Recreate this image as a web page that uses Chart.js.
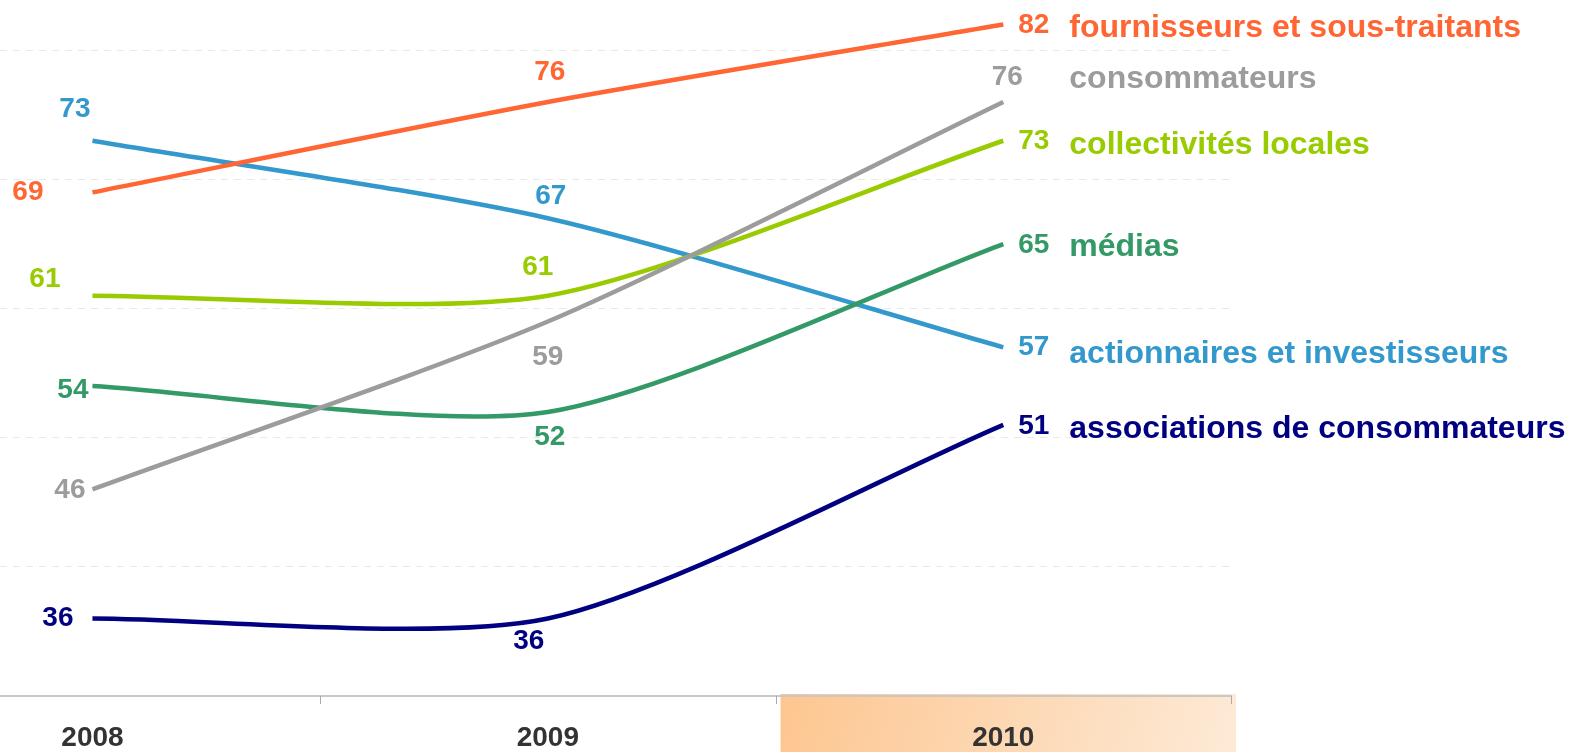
<!DOCTYPE html>
<html lang="fr">
<head>
<meta charset="utf-8">
<script src="https://cdn.jsdelivr.net/npm/chart.js@4.4.1/dist/chart.umd.min.js"></script>
<style>
  html, body { margin: 0; padding: 0; background: #fff; }
  #wrap { position: relative; width: 1583px; height: 752px; }
</style>
</head>
<body>
<div id="wrap"><canvas id="chart"></canvas></div>
<script>
/* global Chart */

var years = [2008, 2009, 2010];
var fournisseurs = [69, 76, 82];
var consommateurs = [46, 59, 76];
var collectivites = [61, 61, 73];
var medias = [54, 52, 65];
var actionnaires = [73, 67, 57];
var associations = [36, 36, 51];

var seriesNames = [
  "fournisseurs et sous-traitants",
  "consommateurs",
  "collectivités locales",
  "médias",
  "actionnaires et investisseurs",
  "associations de consommateurs",
];
var seriesValues = [fournisseurs, consommateurs, collectivites, medias, actionnaires, associations];
var seriesColors = ["#ff6633", "#9c9c9c", "#99cc00", "#339966", "#3399cc", "#000080"];

// where each value label sits relative to its point: [align, dx, dy]
var labelPos = [
  [["right", -49, 0], ["center", 2, -30], ["left", 15, 1]],
  [["right", -7, 1], ["center", 0, 36], ["center", 4, -25]],
  [["right", -32, -16], ["center", -10, -28], ["left", 15, 1]],
  [["right", -4, 4], ["center", 2, 25], ["left", 15, 1]],
  [["right", -2, -31], ["center", 3, -22], ["left", 15, 0]],
  [["right", -19, 0], ["center", -19, 23], ["left", 15, 1]],
];
// baseline of the series name, relative to the 2010 point
var nameDy = [12, -14, 13, 12, 16, 13];

function toPoints(values) {
  return values.map(function (v, i) {
    return { x: years[i], y: v };
  });
}

var datasets = seriesValues.map(function (values, i) {
  return {
    label: seriesNames[i],
    data: toPoints(values),
    borderColor: seriesColors[i],
    borderWidth: 4.5,
    pointRadius: 0,
    tension: 0.25,
    fill: false,
  };
});

var decorations = {
  id: "decorations",
  beforeDraw: function (chart) {
    var ctx = chart.ctx;
    var x = chart.scales.x;
    var area = chart.chartArea;
    var left = x.getPixelForValue(2009.5) + 5;
    var right = x.getPixelForValue(2010.5) + 5;
    var top = area.bottom - 2;
    var g = ctx.createLinearGradient(left, top, right, chart.height + 60);
    g.addColorStop(0, "#fdc690");
    g.addColorStop(1, "#fdebd9");
    ctx.save();
    ctx.fillStyle = g;
    ctx.fillRect(left, top, right - left, chart.height - top);
    ctx.restore();
  },
  afterDatasetsDraw: function (chart) {
    var ctx = chart.ctx;
    var x = chart.scales.x;
    var area = chart.chartArea;
    ctx.save();

    // tick marks between the years
    ctx.strokeStyle = "#aaaaaa";
    ctx.lineWidth = 1;
    [2008.5, 2009.5, 2010.5].forEach(function (v) {
      var px = Math.round(x.getPixelForValue(v)) + 0.5;
      ctx.beginPath();
      ctx.moveTo(px, area.bottom);
      ctx.lineTo(px, area.bottom + 8);
      ctx.stroke();
    });

    // year labels
    ctx.fillStyle = "#333333";
    ctx.font = "bold 28px 'Liberation Sans', Arial, sans-serif";
    ctx.textAlign = "center";
    ctx.textBaseline = "middle";
    years.forEach(function (y) {
      ctx.fillText(String(y), x.getPixelForValue(y), area.bottom + 42);
    });

    // value labels and series names
    chart.data.datasets.forEach(function (ds, i) {
      var meta = chart.getDatasetMeta(i);
      ctx.fillStyle = seriesColors[i];
      ctx.font = "bold 28px 'Liberation Sans', Arial, sans-serif";
      ctx.textBaseline = "middle";
      meta.data.forEach(function (pt, j) {
        var p = labelPos[i][j];
        ctx.textAlign = p[0];
        ctx.fillText(String(seriesValues[i][j]), pt.x + p[1], pt.y + p[2]);
      });
      var last = meta.data[meta.data.length - 1];
      ctx.font = "bold 32px 'Liberation Sans', Arial, sans-serif";
      ctx.textAlign = "left";
      ctx.textBaseline = "alphabetic";
      ctx.fillText(seriesNames[i], last.x + 66, last.y + nameDy[i]);
    });
    ctx.restore();
  },
};

var chart = new Chart(document.getElementById("chart"), {
  type: "line",
  data: { datasets: datasets },
  options: {
    responsive: true,
    maintainAspectRatio: false,
    animation: false,
    layout: { padding: { top: 0, left: 0, right: 352, bottom: 0 } },
    plugins: {
      legend: { display: false },
      tooltip: { enabled: false },
    },
    scales: {
      x: {
        type: "linear",
        min: 2007.797,
        max: 2010.5,
        ticks: { display: false },
        grid: { display: false, drawTicks: false },
        border: { display: true, color: "#c8c8c8", width: 2 },
        afterFit: function (scale) {
          scale.height = 56;
        },
      },
      y: {
        min: 30,
        max: 83.9,
        ticks: { display: false, stepSize: 10 },
        grid: {
          drawTicks: false,
          lineWidth: 1,
          color: function (c) {
            var v = c.tick && c.tick.value;
            return v > 30 && v % 10 === 0 ? "#e9e9e9" : "rgba(0,0,0,0)";
          },
        },
        border: { display: false, dash: [7, 6] },
        afterFit: function (scale) {
          scale.width = 0;
        },
      },
    },
  },
  plugins: [decorations],
});
</script>
</body>
</html>
